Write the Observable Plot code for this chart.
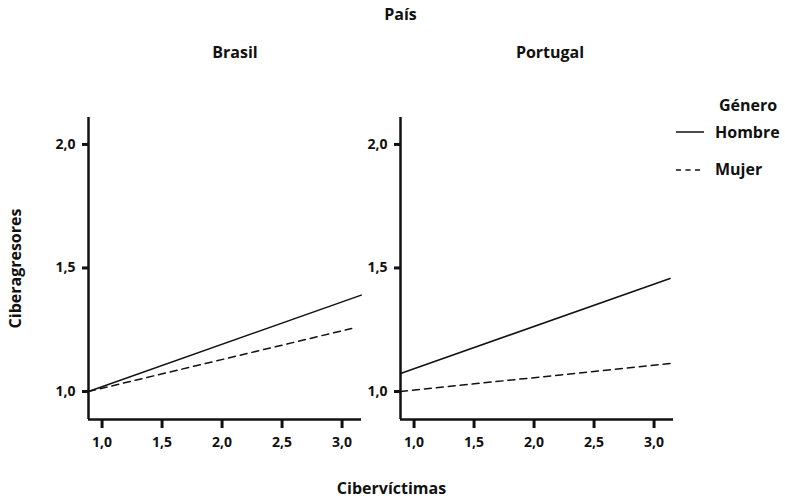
<!DOCTYPE html>
<html><head><meta charset="utf-8">
<script src="https://cdn.jsdelivr.net/npm/d3@7"></script>
<script src="https://cdn.jsdelivr.net/npm/@observablehq/plot@0.6"></script>
<style>
body{margin:0;background:#fff;font-family:"Open Sans",sans-serif;}
#wrap{position:relative;width:785px;height:499px;}
#legend{position:absolute;left:0;top:0;width:785px;height:499px;pointer-events:none;font-family:"Open Sans",sans-serif;font-weight:bold;font-size:16px;color:#111;}
#legend div{position:absolute;white-space:nowrap;line-height:1;}
</style></head><body><div id="wrap"></div>
<script>
const paises = ["Brasil", "Portugal"];
const generos = ["Hombre", "Mujer"];
// Cibervíctimas (x) at line start / end, and Ciberagresores (y)
const brasilHombreX = [0.887, 3.16];
const brasilHombreY = [1.0, 1.39];
const brasilMujerX = [0.887, 3.08];
const brasilMujerY = [1.0, 1.255];
const portugalHombreX = [0.887, 3.133];
const portugalHombreY = [1.073, 1.457];
const portugalMujerX = [0.887, 3.133];
const portugalMujerY = [1.0, 1.113];
const xTicks = [1.0, 1.5, 2.0, 2.5, 3.0];
const yTicks = [1.0, 1.5, 2.0];
const xDomain = [0.887, 3.162];
const yDomain = [0.8866, 2.109];

const series = [
  ["Brasil", "Hombre", brasilHombreX, brasilHombreY],
  ["Brasil", "Mujer", brasilMujerX, brasilMujerY],
  ["Portugal", "Hombre", portugalHombreX, portugalHombreY],
  ["Portugal", "Mujer", portugalMujerX, portugalMujerY]
];
const rows = [];
for (const [pais, genero, xs, ys] of series) xs.forEach((x, i) => rows.push({pais, genero, x, y: ys[i]}));

const fmt = d => d.toFixed(1).replace(".", ",");
const font = {fontFamily: "Open Sans", fontWeight: "bold"};

const plot = Plot.plot({
  width: 785, height: 499,
  marginLeft: 88, marginRight: 112, marginTop: 117, marginBottom: 80,
  style: {fontFamily: "Open Sans", fontWeight: "bold", fontSize: "14px", color: "#111", background: "white"},
  fx: {domain: paises, paddingInner: 0.125, paddingOuter: 0, axis: null, label: null},
  x: {domain: xDomain, axis: null},
  y: {domain: yDomain, axis: null},
  marks: [
    Plot.axisX({ticks: xTicks, tickFormat: fmt, tickSize: 9, tickPadding: 9, strokeWidth: 3, fontSize: 14, label: null, ...font}),
    Plot.axisY({ticks: yTicks, tickFormat: fmt, tickSize: 6, tickPadding: 7, strokeWidth: 3, fontSize: 14, label: null, facetAnchor: null, ...font}),
    Plot.ruleY([yDomain[0]], {stroke: "#111", strokeWidth: 2.5}),
    Plot.ruleX([xDomain[0]], {stroke: "#111", strokeWidth: 2.5}),
    Plot.line(rows.filter(d => d.genero === "Hombre"), {x: "x", y: "y", fx: "pais", z: "pais", stroke: "#111", strokeWidth: 1.5}),
    Plot.line(rows.filter(d => d.genero === "Mujer"), {x: "x", y: "y", fx: "pais", z: "pais", stroke: "#111", strokeWidth: 1.5, strokeDasharray: "7,5"}),
    Plot.text(["Brasil"], {fx: d => d, text: d => d, frameAnchor: "top", dx: 10, dy: -65, textAnchor: "middle", lineAnchor: "middle", fontSize: 16, ...font}),
    Plot.text(["Portugal"], {fx: d => d, text: d => d, frameAnchor: "top", dx: 13, dy: -65, textAnchor: "middle", lineAnchor: "middle", fontSize: 16, ...font}),
    Plot.text([{pais: "Brasil", t: "País"}], {fx: "pais", text: "t", frameAnchor: "top-right", dx: 39, dy: -103, textAnchor: "middle", lineAnchor: "middle", fontSize: 16, ...font}),
    Plot.text([{pais: "Brasil", t: "Ciberagresores"}], {fx: "pais", text: "t", frameAnchor: "left", dx: -73, rotate: -90, textAnchor: "middle", lineAnchor: "middle", fontSize: 16, ...font}),
    Plot.text([{pais: "Brasil", t: "Cibervíctimas"}], {fx: "pais", text: "t", frameAnchor: "bottom-right", dx: 30, dy: 69, textAnchor: "middle", lineAnchor: "middle", fontSize: 16, ...font})
  ]
});
const wrap = document.getElementById("wrap");
wrap.appendChild(plot);

// legend
const leg = document.createElement("div");
leg.id = "legend";
leg.innerHTML = `
<div style="left:748px;top:105px;transform:translate(-50%,-50%)">Género</div>
<svg style="position:absolute;left:674px;top:128px" width="34" height="8"><line x1="2" x2="30" y1="4" y2="4" stroke="#111" stroke-width="1.5"/></svg>
<div style="left:715px;top:132px;transform:translateY(-50%)">${generos[0]}</div>
<svg style="position:absolute;left:674px;top:166px" width="34" height="8"><line x1="2" x2="30" y1="4" y2="4" stroke="#111" stroke-width="1.5" stroke-dasharray="5,4.5"/></svg>
<div style="left:715px;top:169px;transform:translateY(-50%)">${generos[1]}</div>`;
wrap.appendChild(leg);
</script></body></html>
